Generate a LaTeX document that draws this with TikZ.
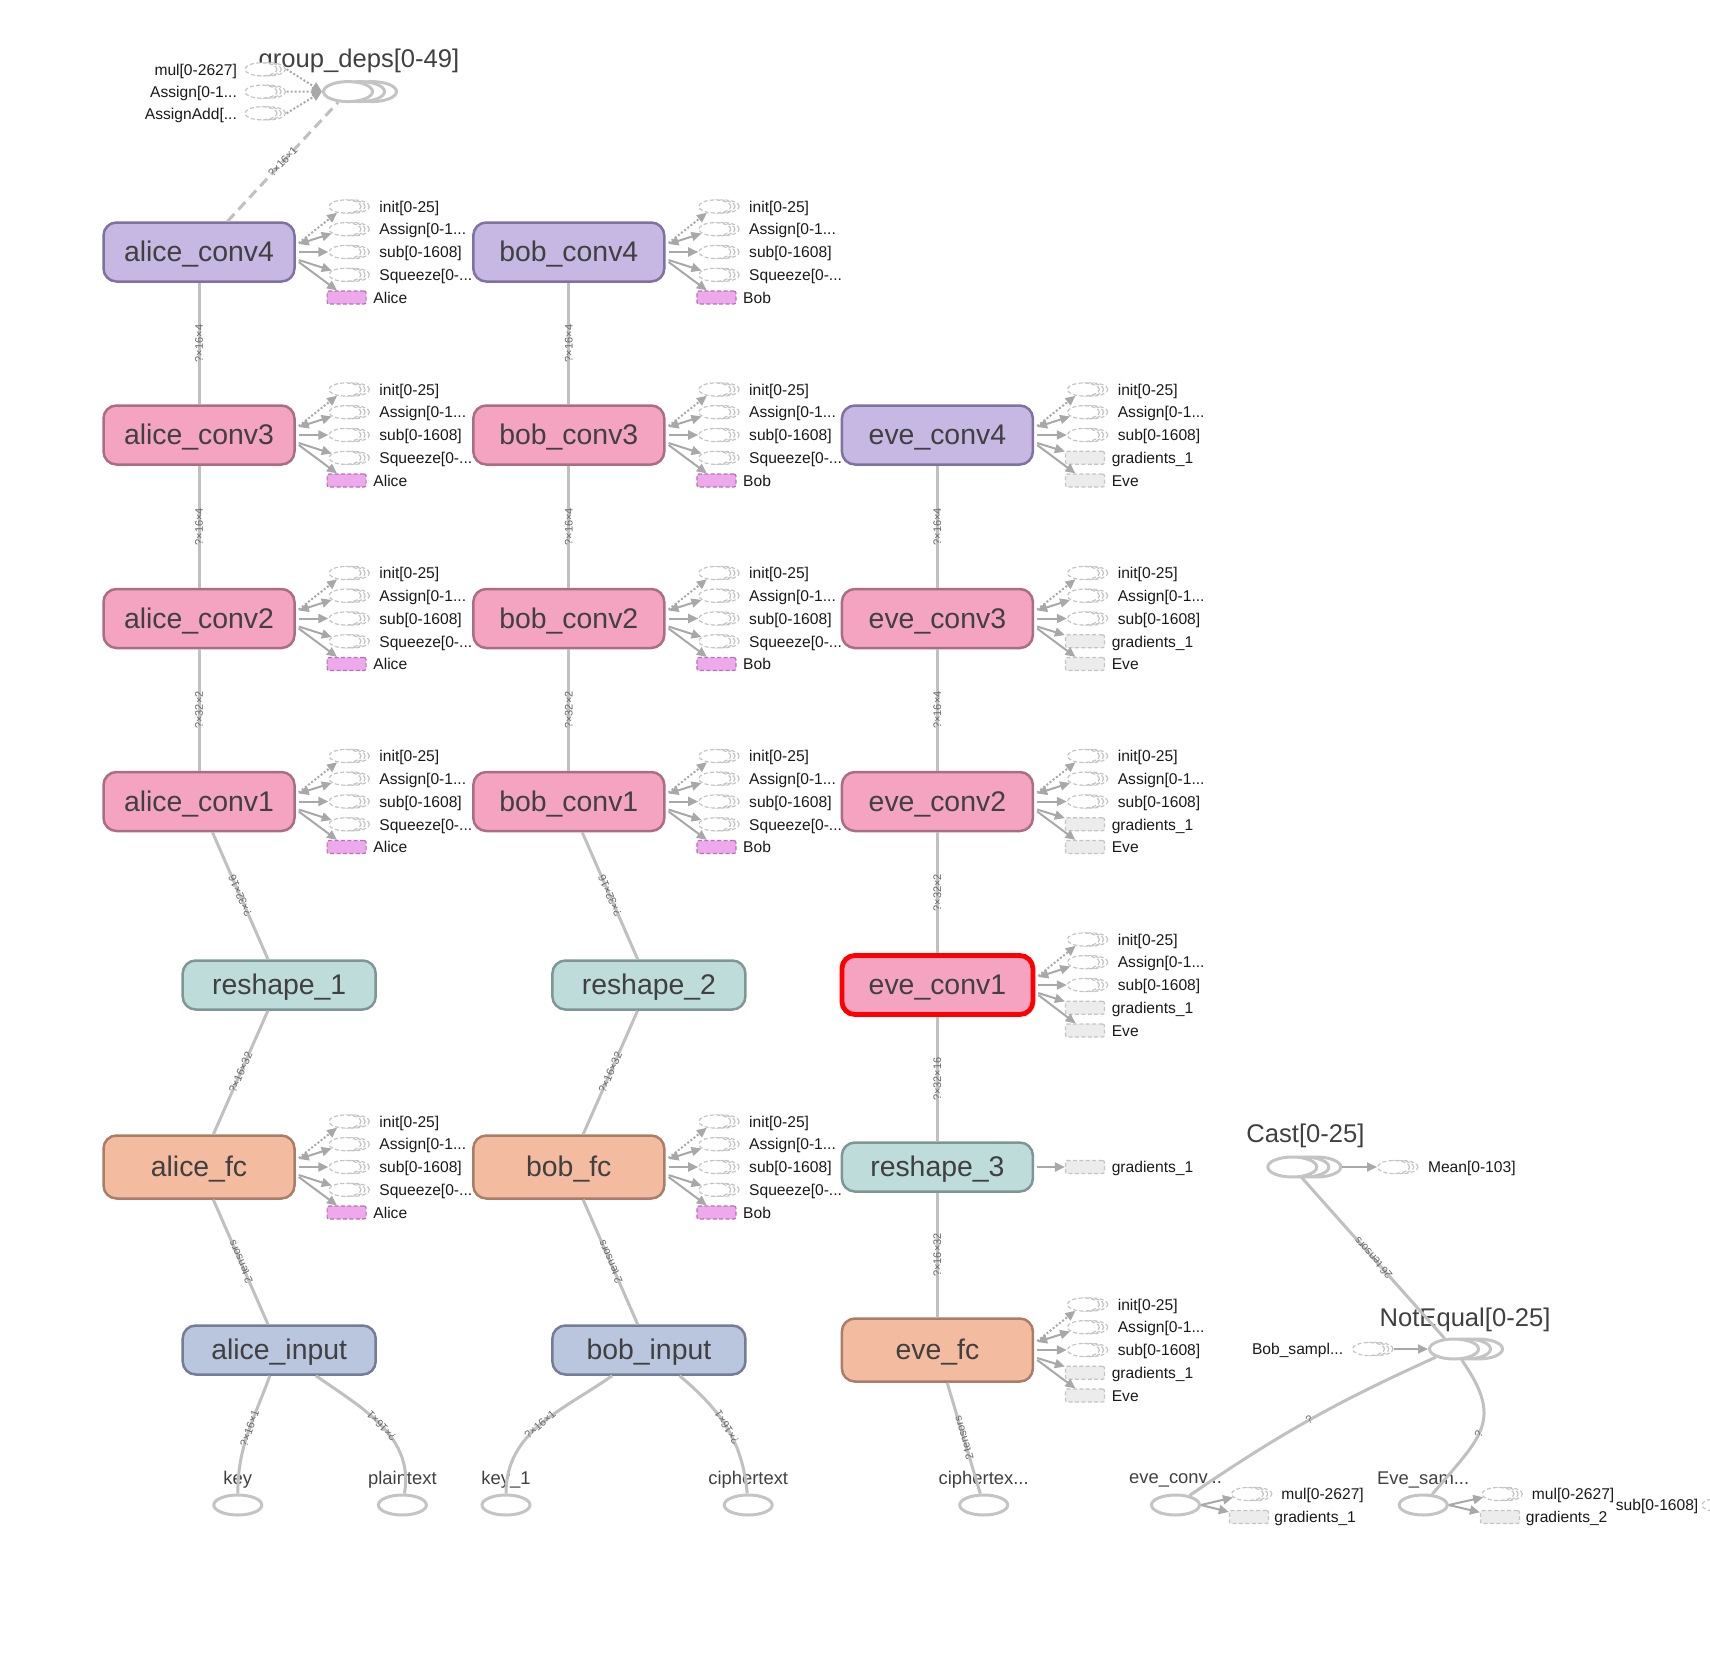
\documentclass[tikz,border=0pt]{standalone}
\usepackage{fontspec}
\setmainfont{Liberation Sans}
\usetikzlibrary{arrows.meta,calc,shapes.geometric}
\definecolor{ink}{RGB}{64,64,64}
\definecolor{deep}{RGB}{25,25,25}
\definecolor{wiregray}{RGB}{192,192,192}
\definecolor{tipgray}{RGB}{168,168,168}
\definecolor{ghost}{RGB}{196,196,196}
\definecolor{labelgray}{RGB}{105,105,105}
\definecolor{topfill}{RGB}{198,184,226}
\definecolor{topdraw}{RGB}{128,114,160}
\definecolor{convfill}{RGB}{244,164,192}
\definecolor{convdraw}{RGB}{170,110,132}
\definecolor{reshfill}{RGB}{190,220,218}
\definecolor{reshdraw}{RGB}{128,150,150}
\definecolor{fcfill}{RGB}{243,188,160}
\definecolor{fcdraw}{RGB}{170,125,105}
\definecolor{infill}{RGB}{186,197,222}
\definecolor{indraw}{RGB}{115,125,150}
\definecolor{partyfill}{RGB}{238,168,236}
\definecolor{partydraw}{RGB}{180,115,175}
\definecolor{gradfill}{RGB}{236,236,236}
\definecolor{alert}{RGB}{255,0,0}
\tikzset{
  box/.style={draw, rounded corners=6.5pt, line width=1.25pt, minimum width=95.5pt, minimum height=29.5pt, inner sep=0pt, text=ink, text height=10.5pt, text depth=1pt, font=\fontsize{14.2}{16}\selectfont},
  topconv/.style={box, fill=topfill, draw=topdraw},
  conv/.style={box, fill=convfill, draw=convdraw},
  fcbox/.style={box, fill=fcfill, draw=fcdraw, minimum height=31.5pt},
  resh/.style={box, fill=reshfill, draw=reshdraw, minimum width=96.5pt, minimum height=24.5pt},
  inbox/.style={box, fill=infill, draw=indraw, minimum width=96.5pt, minimum height=24.5pt},
  picked/.style={draw=alert, line width=2.4pt},
  series/.style={ellipse, draw=ghost, fill=white, dash pattern=on 2pt off 1.2pt, line width=0.6pt, minimum width=16pt, minimum height=6.5pt, inner sep=0pt,
    preaction={draw=ghost, fill=white, dash pattern=on 2pt off 1.2pt, line width=0.6pt, transform canvas={xshift=4.2pt}},
    preaction={draw=ghost, fill=white, dash pattern=on 2pt off 1.2pt, line width=0.6pt, transform canvas={xshift=2.1pt}}},
  stack/.style={ellipse, draw=ghost, fill=white, line width=1.5pt, minimum width=24.5pt, minimum height=10pt, inner sep=0pt,
    preaction={draw=ghost, fill=white, line width=1.5pt, transform canvas={xshift=12pt}},
    preaction={draw=ghost, fill=white, line width=1.5pt, transform canvas={xshift=6pt}}},
  partybox/.style={rectangle, draw=partydraw, fill=partyfill, dash pattern=on 2pt off 1.2pt, line width=0.6pt, minimum width=19.5pt, minimum height=6.5pt, inner sep=0pt, rounded corners=1pt},
  gradbox/.style={partybox, draw=ghost, fill=gradfill},
  leaf/.style={ellipse, draw=ghost, line width=1.5pt, minimum width=24pt, minimum height=10pt, inner sep=0pt},
  itemlbl/.style={anchor=west, text=deep, inner sep=0pt, text height=5.7pt, text depth=0pt, font=\fontsize{7.8}{9}\selectfont},
  leaflbl/.style={text=ink, inner sep=0pt, font=\fontsize{9.2}{11}\selectfont},
  stacklbl/.style={text=ink, inner sep=0pt, font=\fontsize{12.8}{15}\selectfont},
  wire/.style={draw=wiregray, line width=1.5pt},
  dashwire/.style={wire, dash pattern=on 5pt off 3pt},
  elbl/.style={sloped, allow upside down, text=labelgray, inner sep=0.5pt, font=\fontsize{5.5}{6}\selectfont},
  feed/.style={draw=tipgray, line width=1pt, -{Triangle[length=5pt,width=4.5pt]}},
  feedboth/.style={feed, {Triangle[length=5pt,width=4.5pt]}-{Triangle[length=5pt,width=4.5pt]}},
  feeddot/.style={feed, densely dotted},
}

\begin{document}
\begin{tikzpicture}[x=0.5pt, y=-0.5pt]
  \useasboundingbox (0,0) rectangle (1710,1676);
  % alice tower
  \node[topconv] (ac4) at (199,252) {alice\_conv4};
  \node[conv] (ac3) at (199,435) {alice\_conv3};
  \node[conv] (ac2) at (199,618.5) {alice\_conv2};
  \node[conv] (ac1) at (199,801.5) {alice\_conv1};
  \node[resh] (rs1) at (279.2,985) {reshape\_1};
  \node[fcbox] (afc) at (199,1167) {alice\_fc};
  \node[inbox] (ain) at (279.2,1350) {alice\_input};
  % bob tower
  \node[topconv] (bc4) at (568.8,252) {bob\_conv4};
  \node[conv] (bc3) at (568.8,435) {bob\_conv3};
  \node[conv] (bc2) at (568.8,618.5) {bob\_conv2};
  \node[conv] (bc1) at (568.8,801.5) {bob\_conv1};
  \node[resh] (rs2) at (648.9,985) {reshape\_2};
  \node[fcbox] (bfc) at (568.8,1167) {bob\_fc};
  \node[inbox] (bin) at (648.9,1350) {bob\_input};
  % eve tower
  \node[topconv] (ec4) at (937.4,435) {eve\_conv4};
  \node[conv] (ec3) at (937.4,618.5) {eve\_conv3};
  \node[conv] (ec2) at (937.4,801.5) {eve\_conv2};
  \node[conv, picked] (ec1) at (937.4,985) {eve\_conv1};
  \node[resh, minimum width=95.5pt] (rs3) at (937.4,1167) {reshape\_3};
  \node[fcbox] (efc) at (937.4,1350) {eve\_fc};

  % side lists
  \foreach \n/\who in {ac4/Alice,ac3/Alice,ac2/Alice,ac1/Alice,afc/Alice,bc4/Bob,bc3/Bob,bc2/Bob,bc1/Bob,bfc/Bob} {
    \node[series] (\n-i) at ($(\n)+(146,-45.5)$) {};
    \node[series] (\n-a) at ($(\n)+(146,-22.8)$) {};
    \node[series] (\n-s) at ($(\n)+(146,0)$) {};
    \node[series] (\n-q) at ($(\n)+(146,22.8)$) {};
    \node[partybox] (\n-p) at ($(\n)+(147.6,45.5)$) {};
    \node[itemlbl] (\n-il) at ($(\n)+(180,-45.5)$) {init[0-25]};
    \node[itemlbl] (\n-al) at ($(\n)+(180,-22.8)$) {Assign[0-1...};
    \node[itemlbl] (\n-sl) at ($(\n)+(180,0)$) {sub[0-1608]};
    \node[itemlbl] (\n-ql) at ($(\n)+(180,22.8)$) {Squeeze[0-...};
    \node[itemlbl] (\n-pl) at ($(\n)+(174,45.5)$) {\who};
    \draw[feeddot] ($(\n.east)+(3,-9)$) -- (\n-i);
    \draw[feedboth] ($(\n.east)+(3,-8)$) -- (\n-a);
    \draw[feed] ($(\n.east)+(3,0)$) -- (\n-s);
    \draw[feed] ($(\n.east)+(3,8)$) -- (\n-q);
    \draw[feed] ($(\n.east)+(3,10)$) -- (\n-p);
  }
  \foreach \n in {ec4,ec3,ec2,ec1,efc} {
    \node[series] (\n-i) at ($(\n)+(146,-45.5)$) {};
    \node[series] (\n-a) at ($(\n)+(146,-22.8)$) {};
    \node[series] (\n-s) at ($(\n)+(146,0)$) {};
    \node[gradbox] (\n-g) at ($(\n)+(147.6,22.8)$) {};
    \node[gradbox] (\n-e) at ($(\n)+(147.6,45.5)$) {};
    \node[itemlbl] (\n-il) at ($(\n)+(180,-45.5)$) {init[0-25]};
    \node[itemlbl] (\n-al) at ($(\n)+(180,-22.8)$) {Assign[0-1...};
    \node[itemlbl] (\n-sl) at ($(\n)+(180,0)$) {sub[0-1608]};
    \node[itemlbl] (\n-gl) at ($(\n)+(174,22.8)$) {gradients\_1};
    \node[itemlbl] (\n-el) at ($(\n)+(174,45.5)$) {Eve};
    \draw[feeddot] ($(\n.east)+(3,-9)$) -- (\n-i);
    \draw[feedboth] ($(\n.east)+(3,-8)$) -- (\n-a);
    \draw[feed] ($(\n.east)+(3,0)$) -- (\n-s);
    \draw[feed] ($(\n.east)+(3,8)$) -- (\n-g);
    \draw[feed] ($(\n.east)+(3,10)$) -- (\n-e);
  }
  \node[gradbox] (rs3-g) at ($(rs3)+(147.6,0)$) {};
  \node[itemlbl] (rs3-gl) at ($(rs3)+(174,0)$) {gradients\_1};
  \draw[feed] ($(rs3.east)+(3,0)$) -- (rs3-g);

  % group_deps
  \node[stack] (gd) at (348,91.6) {};
  \node[stacklbl] (gd-l) at (359,61) {group\_deps[0-49]};
  \foreach \s/\y/\t in {gm/69.3/{mul[0-2627]}, ga/91.7/{Assign[0-1...}, gaa/113.3/{AssignAdd[...}} {
    \node[series] (\s) at (261,\y) {};
    \node[itemlbl, anchor=east] (\s-l) at (237.3,\y) {\t};
    \draw[feeddot] ($(\s.east)+(9,0)$) -- (gd.west);
  }

  % cast / notequal
  \node[stack] (cast) at (1292.3,1167) {};
  \node[stacklbl] (cast-l) at (1305.5,1136) {Cast[0-25]};
  \node[series] (mean) at (1393.6,1167) {};
  \node[itemlbl] (mean-l) at (1427.6,1167) {Mean[0-103]};
  \draw[feed] ($(cast.east)+(24,0)$) -- (mean);
  \node[stack] (ne) at (1454,1349) {};
  \node[stacklbl] (ne-l) at (1465,1320) {NotEqual[0-25]};
  \node[series] (bs) at (1368.6,1349) {};
  \node[itemlbl, anchor=east] (bs-l) at (1343.5,1349) {Bob\_sampl...};
  \draw[feed] ($(bs.east)+(9,0)$) -- (ne);

  % leaves
  \foreach \n/\x/\t in {key/237.8/key, plain/402.4/plaintext, key1/506/{key\_1}, ctext/748.2/ciphertext, ctx/983.7/{ciphertex...}, evc/1175.5/{eve\_conv...}, evs/1423.2/{Eve\_sam...}} {
    \node[leaf] (\n) at (\x,1505) {};
    \node[leaflbl] (\n-l) at (\x,1480) {\t};
  }
  \node[series] (mul1) at (1247.5,1494) {};
  \node[gradbox] (gr1) at (1249,1517) {};
  \node[itemlbl] (mul1-l) at (1281,1494) {mul[0-2627]};
  \node[itemlbl] (gr1-l) at (1274,1517) {gradients\_1};
  \draw[feed] (evc.east) -- (mul1);
  \draw[feed] (evc.east) -- (gr1);
  \node[series] (mul2) at (1498,1494) {};
  \node[gradbox] (gr2) at (1500,1517) {};
  \node[itemlbl] (mul2-l) at (1531.5,1494) {mul[0-2627]};
  \node[itemlbl] (gr2-l) at (1525.5,1517) {gradients\_2};
  \draw[feed] (evs.east) -- (mul2);
  \draw[feed] (evs.east) -- (gr2);
  \node[itemlbl] (sb-l) at (1615.5,1505) {sub[0-1608]};
  \node[series] (sb) at (1718,1505) {};

  % data edges
  \foreach \a/\b/\t in {ac3/ac4/?×16×4, ac2/ac3/?×16×4, ac1/ac2/?×32×2, rs1/ac1/?×32×16, afc/rs1/?×16×32, ain/afc/2 tensors,
                        bc3/bc4/?×16×4, bc2/bc3/?×16×4, bc1/bc2/?×32×2, rs2/bc1/?×32×16, bfc/rs2/?×16×32, bin/bfc/2 tensors,
                        ec3/ec4/?×16×4, ec2/ec3/?×16×4, ec1/ec2/?×32×2, rs3/ec1/?×32×16, efc/rs3/?×16×32, ctx/efc/2 tensors}
    \draw[wire] (\a) -- node[elbl] {\t} (\b);
  \draw[dashwire] (ac4) -- node[elbl] {?×16×1} (gd);
  \draw[wire] (key) to[out=90, in=-110] node[elbl, pos=0.55] {?×16×1} (ain);
  \draw[wire] (plain) to[out=80, in=-35] node[elbl, pos=0.5] {?×16×1} (ain);
  \draw[wire] (key1) to[out=90, in=-145] node[elbl] {?×16×1} (bin);
  \draw[wire] (ctext) to[out=95, in=-40] node[elbl] {?×16×1} (bin);
  \draw[wire] (evc) to[bend left=5] node[elbl] {?} (ne);
  \draw[wire] (evs) to[out=50, in=-55, looseness=1.4] node[elbl, pos=0.45] {?} (ne);
  \draw[wire] (ne) -- node[elbl] {26 tensors} (cast);
\end{tikzpicture}
\end{document}
